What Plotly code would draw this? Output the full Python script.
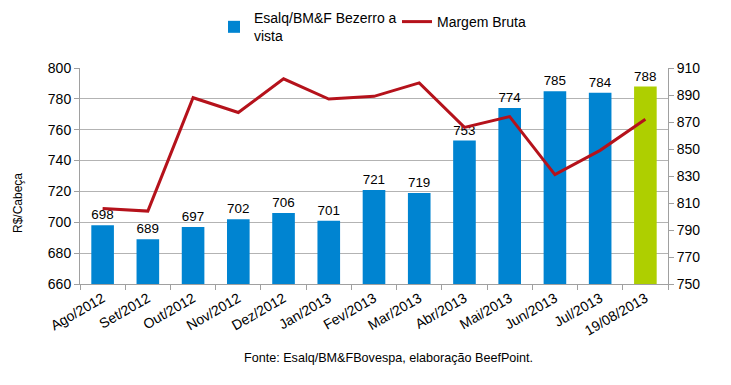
import plotly.graph_objects as go

categories = ["Ago/2012", "Set/2012", "Out/2012", "Nov/2012", "Dez/2012", "Jan/2013",
              "Fev/2013", "Mar/2013", "Abr/2013", "Mai/2013", "Jun/2013", "Jul/2013", "19/08/2013"]
bezerro = [698, 689, 697, 702, 706, 701, 721, 719, 753, 774, 785, 784, 788]
margem = [806, 804, 888, 877, 902, 887, 889, 899, 866, 874, 831, 849, 872]
bar_colors = ["#0084D1"] * 12 + ["#AECF00"]

font_family = "Liberation Sans, Arial, sans-serif"

# plot area in page pixels: x 80..668, y 68..284 (page has an 8px body margin)
PL, PR, PT, PB = 80, 668, 68, 284
PW, PH = PR - PL, PB - PT


def px(x):
    return (x - PL) / PW


def py(y):
    return (PB - y) / PH


fig = go.Figure()
fig.add_trace(go.Bar(
    x=categories, y=bezerro, name="Esalq/BM&F Bezerro a<br>vista",
    marker=dict(color=bar_colors, line=dict(width=0)),
    text=[str(v) for v in bezerro], textposition="outside",
    textfont=dict(size=14, color="#000000", family=font_family),
    cliponaxis=False, width=0.5, yaxis="y", legend="legend",
))
fig.add_trace(go.Scatter(
    x=categories, y=margem, name="Margem Bruta", mode="lines",
    line=dict(color="#B5121B", width=3), yaxis="y2", legend="legend2",
))

fig.update_layout(
    width=723, height=377,
    margin=dict(l=72, r=63, t=60, b=101, pad=0, autoexpand=False),
    paper_bgcolor="white", plot_bgcolor="white",
    font=dict(family=font_family, size=14, color="#000000"),
    showlegend=True,
    legend=dict(orientation="h", x=px(214), y=1.305, xanchor="left", yanchor="top",
                font=dict(size=14, color="#000000"), bgcolor="rgba(0,0,0,0)",
                itemwidth=30),
    legend2=dict(orientation="h", x=px(397), y=1.287, xanchor="left", yanchor="top",
                 font=dict(size=14, color="#000000"), bgcolor="rgba(0,0,0,0)",
                 itemwidth=30),
    xaxis=dict(
        type="category", tickangle=-30, showgrid=False,
        showline=True, linecolor="#A0A0A0", linewidth=1,
        ticks="outside", tickson="boundaries", ticklen=5, tickcolor="#A0A0A0",
        tickfont=dict(size=14, color="#000000"),
    ),
    yaxis=dict(
        range=[660, 800], tick0=660, dtick=20, showgrid=True, gridcolor="#B3B3B3", gridwidth=1,
        showline=True, linecolor="#A0A0A0", linewidth=1,
        ticks="outside", ticklen=5, tickcolor="#A0A0A0",
        tickfont=dict(size=14, color="#000000"), zeroline=False,
    ),
    yaxis2=dict(
        range=[750, 910], tickmode="linear", tick0=750, dtick=20, overlaying="y", side="right",
        showgrid=False,
        showline=True, linecolor="#A0A0A0", linewidth=1,
        ticks="outside", ticklen=5, tickcolor="#A0A0A0",
        tickfont=dict(size=14, color="#000000"), zeroline=False,
    ),
    annotations=[
        dict(text="R$/Cabeça", textangle=-90, xref="paper", yref="paper",
             x=px(18), y=py(203), xanchor="center", yanchor="middle",
             showarrow=False, font=dict(size=12, color="#000000")),
        dict(text="Fonte: Esalq/BM&FBovespa, elaboração BeefPoint.", xref="paper", yref="paper",
             x=px(388), y=py(358), xanchor="center", yanchor="middle",
             showarrow=False, font=dict(size=12.6, color="#000000")),
    ],
)

fig.write_html("out.html")
